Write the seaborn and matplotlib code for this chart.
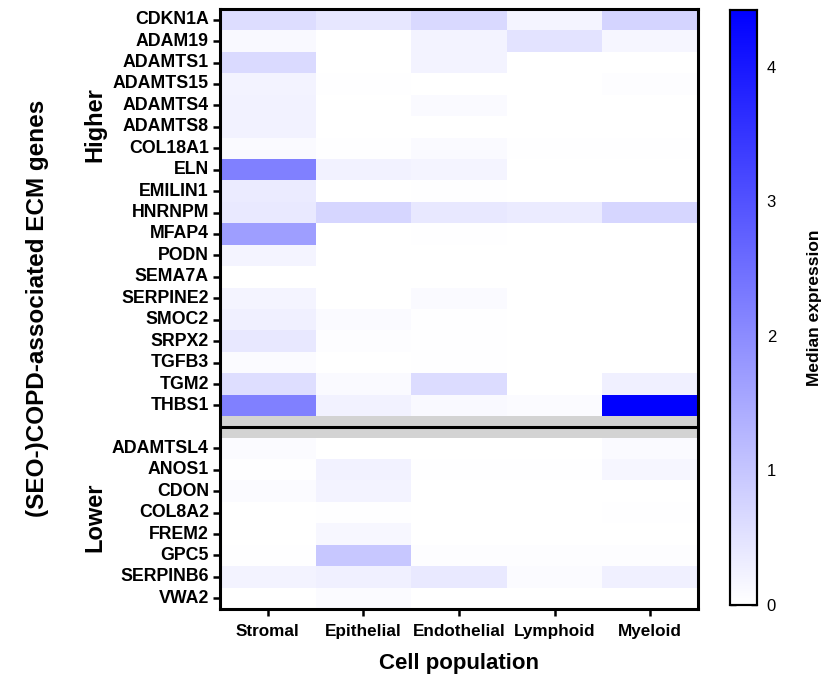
import numpy as np
import pandas as pd
import matplotlib
matplotlib.use("Agg")
import matplotlib.pyplot as plt
from matplotlib.colors import LinearSegmentedColormap
from matplotlib.transforms import blended_transform_factory
import seaborn as sns

sns.set_theme(style="white")
plt.rcParams["font.family"] = ["Liberation Sans", "DejaVu Sans"]
plt.rcParams.update({"text.color": "black", "axes.labelcolor": "black",
                     "xtick.color": "black", "ytick.color": "black"})

cell_types = ["Stromal", "Epithelial", "Endothelial", "Lymphoid", "Myeloid"]

higher_genes = ["CDKN1A", "ADAM19", "ADAMTS1", "ADAMTS15", "ADAMTS4", "ADAMTS8",
                "COL18A1", "ELN", "EMILIN1", "HNRNPM", "MFAP4", "PODN", "SEMA7A",
                "SERPINE2", "SMOC2", "SRPX2", "TGFB3", "TGM2", "THBS1"]
lower_genes = ["ADAMTSL4", "ANOS1", "CDON", "COL8A2", "FREM2", "GPC5",
               "SERPINB6", "VWA2"]

# median expression per cell population (Stromal, Epithelial, Endothelial, Lymphoid, Myeloid)
higher_values = [
    [0.60, 0.43, 0.66, 0.19, 0.75],  # CDKN1A
    [0.12, 0.00, 0.22, 0.50, 0.16],  # ADAM19
    [0.64, 0.00, 0.22, 0.00, 0.00],  # ADAMTS1
    [0.21, 0.02, 0.00, 0.00, 0.05],  # ADAMTS15
    [0.24, 0.00, 0.10, 0.00, 0.00],  # ADAMTS4
    [0.24, 0.00, 0.01, 0.01, 0.00],  # ADAMTS8
    [0.10, 0.03, 0.10, 0.02, 0.03],  # COL18A1
    [2.20, 0.24, 0.20, 0.00, 0.00],  # ELN
    [0.35, 0.00, 0.02, 0.00, 0.00],  # EMILIN1
    [0.38, 0.71, 0.40, 0.36, 0.71],  # HNRNPM
    [1.68, 0.00, 0.03, 0.00, 0.00],  # MFAP4
    [0.19, 0.00, 0.00, 0.00, 0.00],  # PODN
    [0.00, 0.00, 0.00, 0.00, 0.00],  # SEMA7A
    [0.19, 0.00, 0.09, 0.00, 0.00],  # SERPINE2
    [0.26, 0.09, 0.02, 0.00, 0.00],  # SMOC2
    [0.40, 0.05, 0.03, 0.00, 0.00],  # SRPX2
    [0.07, 0.00, 0.02, 0.00, 0.00],  # TGFB3
    [0.57, 0.10, 0.62, 0.00, 0.26],  # TGM2
    [2.20, 0.24, 0.12, 0.07, 4.42],  # THBS1
]
lower_values = [
    [0.07, 0.00, 0.00, 0.00, 0.09],  # ADAMTSL4
    [0.03, 0.24, 0.02, 0.02, 0.16],  # ANOS1
    [0.07, 0.22, 0.00, 0.00, 0.00],  # CDON
    [0.00, 0.02, 0.00, 0.00, 0.03],  # COL8A2
    [0.00, 0.14, 0.00, 0.00, 0.00],  # FREM2
    [0.03, 0.97, 0.05, 0.05, 0.05],  # GPC5
    [0.22, 0.26, 0.38, 0.07, 0.26],  # SERPINB6
    [0.00, 0.07, 0.00, 0.00, 0.00],  # VWA2
]

vmin, vmax = 0.0, 4.42

# stack the two gene groups with an empty spacer row between them
rows = higher_values + [[np.nan] * len(cell_types)] + lower_values
row_labels = higher_genes + [""] + lower_genes
df = pd.DataFrame(rows, index=row_labels, columns=cell_types)

cmap = LinearSegmentedColormap.from_list("white_blue", ["#ffffff", "#0000ff"])

fig = plt.figure(figsize=(8.21, 6.76), dpi=100)
ax = fig.add_axes([0.268, 0.0991, 0.582, 0.8876])
cax = fig.add_axes([0.889, 0.105, 0.033, 0.880])

sns.heatmap(df, ax=ax, cbar_ax=cax, cmap=cmap, vmin=vmin, vmax=vmax,
            linewidths=0, xticklabels=True, yticklabels=True)
ax.set_facecolor("#d3d3d3")

gap = len(higher_genes)
ax.axhline(gap + 0.5, color="black", lw=2.2)

# y ticks only on gene rows
ypos = [i + 0.5 for i in range(len(row_labels)) if row_labels[i]]
ax.set_yticks(ypos)
ax.set_yticklabels([l for l in row_labels if l], fontsize=12.8,
                   fontweight="bold", rotation=0, color="black")
ax.set_xticklabels(cell_types, fontsize=12.3, fontweight="bold", rotation=0,
                   color="black")
ax.tick_params(axis="both", which="both", left=True, bottom=True,
               direction="out", length=5, width=1.8, color="black", pad=3)
ax.tick_params(axis="x", pad=6)
ax.set_xlabel("Cell population", fontsize=16, fontweight="bold", labelpad=10,
              color="black")
ax.set_ylabel("")

for s in ax.spines.values():
    s.set_visible(True)
    s.set_color("black")
    s.set_linewidth(2.2)

# group labels
trans = blended_transform_factory(ax.transAxes, ax.transData)
ax.text(-0.262, 5.4, "Higher", transform=trans, rotation=90, color="black",
        ha="center", va="center", fontsize=17, fontweight="bold")
ax.text(-0.262, 23.7, "Lower", transform=trans, rotation=90, color="black",
        ha="center", va="center", fontsize=17, fontweight="bold")
fig.text(0.046, 0.544, "(SEO-)COPD-associated ECM genes", rotation=90,
         ha="center", va="center", fontsize=17.5, fontweight="bold",
         color="black")

# colorbar styling
cax.set_yticks([0, 1, 2, 3, 4])
cax.tick_params(axis="y", which="both", direction="in", left=True, right=True,
                length=4, width=1, color="black", labelcolor="black",
                labelsize=12, pad=7)
for s in cax.spines.values():
    s.set_visible(True)
    s.set_color("black")
    s.set_linewidth(1.5)
cax.set_ylabel("Median expression", fontsize=12.5, fontweight="bold",
               labelpad=22, color="black")

fig.savefig("out.png", dpi=100, facecolor="white")
